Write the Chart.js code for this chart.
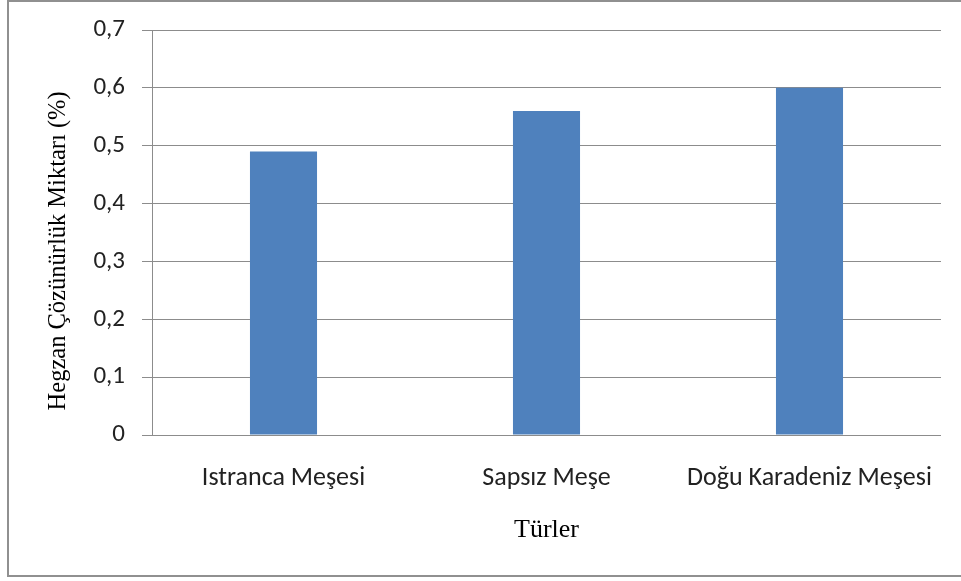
<!DOCTYPE html>
<html>
<head>
<meta charset="utf-8">
<script src="https://cdn.jsdelivr.net/npm/chart.js@4/dist/chart.umd.min.js"></script>
<style>
  html, body { margin: 0; padding: 0; background: #fff; }
  #wrap { width: 961px; height: 581px; }
</style>
</head>
<body>
<div id="wrap"><canvas id="chart" width="961" height="581"></canvas></div>
<script>
const categories = ['Istranca Meşesi', 'Sapsız Meşe', 'Doğu Karadeniz Meşesi'];
const values = [0.49, 0.56, 0.60];
const yTicks = { min: 0, max: 0.7, step: 0.1 };

const xTickFont = { family: 'Carlito, Lato, sans-serif', size: 26 };
const yTickFont = { family: 'Carlito, Lato, sans-serif', size: 25, lineHeight: 1 };
const xTitleFont = { family: '"Liberation Serif", "Times New Roman", serif', size: 26 };
const yTitleFont = { family: '"Liberation Serif", "Times New Roman", serif', size: 24.5 };
const gridColor = '#8c8c8c';

// gray frame around the whole chart, like the Excel chart area
const frame = {
  id: 'frame',
  beforeDraw(chart) {
    const ctx = chart.ctx;
    ctx.save();
    ctx.fillStyle = '#fff';
    ctx.fillRect(0, 0, chart.width, chart.height);
    ctx.strokeStyle = '#909090';
    ctx.lineWidth = 2;
    ctx.strokeRect(8, 1, chart.width + 10, 575);
    ctx.restore();
  }
};

new Chart(document.getElementById('chart').getContext('2d'), {
  type: 'bar',
  data: {
    labels: categories,
    datasets: [{
      data: values,
      backgroundColor: '#4F81BD',
      borderWidth: 0,
      barPercentage: 0.255,
      categoryPercentage: 1
    }]
  },
  options: {
    responsive: false,
    animation: false,
    layout: { padding: { left: 0, top: 30, right: 20, bottom: 0 } },
    plugins: {
      legend: { display: false },
      tooltip: { enabled: false }
    },
    scales: {
      x: {
        afterFit: s => { s.height = 146; s.paddingLeft = 0; s.paddingRight = 0; },
        grid: { display: false, drawTicks: false },
        border: { display: false },
        ticks: { font: xTickFont, color: '#222', padding: 28, maxRotation: 0 },
        title: { display: true, text: 'Türler', font: xTitleFont, color: '#000', padding: { top: 0, bottom: 35 } }
      },
      y: {
        min: yTicks.min,
        max: yTicks.max,
        afterFit: s => { s.width = 152; },
        grid: { color: gridColor, lineWidth: 1, tickLength: 10, drawTicks: true },
        border: { display: true, color: gridColor, width: 1 },
        ticks: {
          stepSize: yTicks.step,
          font: yTickFont,
          color: '#222',
          padding: 17,
          callback: v => v === 0 ? '0' : v.toFixed(1).replace('.', ',')
        },
        // trailing spaces nudge the title a bit lower, as in the original
        title: { display: true, text: 'Hegzan Çözünürlük Miktarı (%)      ', font: yTitleFont, color: '#000', padding: { top: 44, bottom: 0 } }
      }
    }
  },
  plugins: [frame]
});
</script>
</body>
</html>
